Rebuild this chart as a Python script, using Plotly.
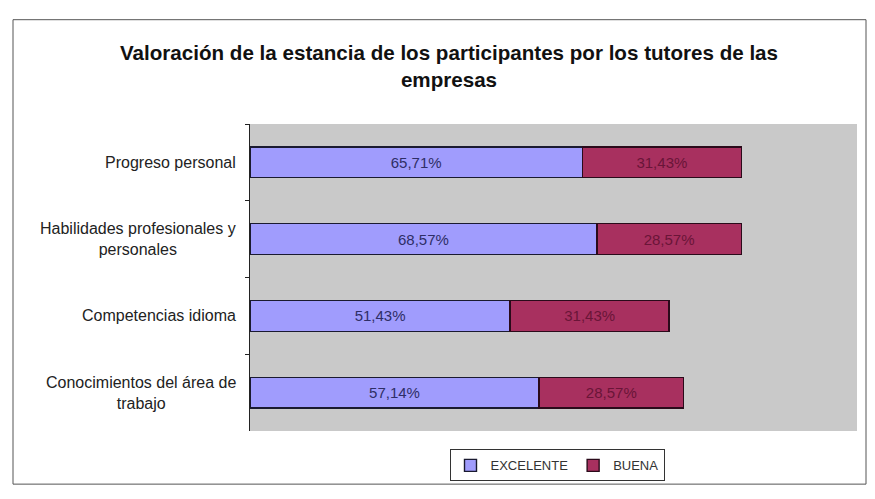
import plotly.graph_objects as go

categories = ["Progreso personal", "Habilidades profesionales y<br>personales",
              "Competencias idioma", "Conocimientos del área de<br>trabajo"]
excelente = [65.71, 68.57, 51.43, 57.14]
buena = [31.43, 28.57, 31.43, 28.57]
series_names = ["EXCELENTE", "BUENA"]
title_text = "Valoración de la estancia de los participantes por los tutores de las<br>empresas"

def fmt(v):
    return f"{v:.2f}%".replace(".", ",")

FONT = "Arial, Liberation Sans, sans-serif"

# figure geometry (page has an 8px body margin)
W, H = 859, 483
L, R, T, B = 242, 10, 116, 55
PW, PH = W - L - R, H - T - B

fig = go.Figure()
fig.add_trace(go.Bar(
    y=categories, x=excelente, orientation="h", name=series_names[0],
    marker=dict(color="#a09cfd", line=dict(color="#1a1a30", width=1.4)),
    text=[fmt(v) for v in excelente], textposition="inside", insidetextanchor="middle",
    textfont=dict(family=FONT, size=15, color="#2e2e66"), hoverinfo="skip",
))
fig.add_trace(go.Bar(
    y=categories, x=buena, orientation="h", name=series_names[1],
    marker=dict(color="#a8305f", line=dict(color="#2a0a1a", width=1.4)),
    text=[fmt(v) for v in buena], textposition="inside", insidetextanchor="middle",
    textfont=dict(family=FONT, size=15, color="#6a1538"), hoverinfo="skip",
))

annotations = [dict(x=(230 - L) / PW, xref="paper", y=c, yref="y", text=c,
                    xanchor="right", yanchor="middle", align="center", showarrow=False,
                    font=dict(family=FONT, size=16, color="#222"))
               for c in categories]

fig.update_layout(
    width=W, height=H,
    barmode="stack", bargap=0.6,
    margin=dict(l=L, r=R, t=T, b=B),
    paper_bgcolor="white", plot_bgcolor="#c9c9c9",
    font=dict(family=FONT, size=12, color="#222"),
    title=dict(text=title_text, x=441 / W, xanchor="center", y=1 - 52 / H,
               yanchor="middle", yref="container",
               font=dict(family=FONT, size=20.6, color="#111", weight="bold")),
    showlegend=True,
    legend=dict(orientation="h", x=(549 - L) / PW, xanchor="center",
                y=(428 - 463) / PH, yanchor="middle",
                bordercolor="#333", borderwidth=1, bgcolor="white",
                font=dict(family=FONT, size=13, color="#333"),
                traceorder="normal", itemwidth=30),
    xaxis=dict(range=[0, 120], visible=False, showgrid=False, zeroline=False, fixedrange=True),
    yaxis=dict(autorange="reversed", showline=True, linecolor="#222", linewidth=1,
               ticks="outside", ticklen=4, tickcolor="#222", tickson="boundaries",
               showgrid=False, showticklabels=False),
    annotations=annotations,
    shapes=[dict(type="rect", xref="paper", yref="paper",
                 x0=(5 - L) / PW, x1=(858 - L) / PW,
                 y0=(428 - 482) / PH, y1=(428 - 10) / PH,
                 line=dict(color="#555", width=1), layer="below")],
)

fig.write_html("out.html")
